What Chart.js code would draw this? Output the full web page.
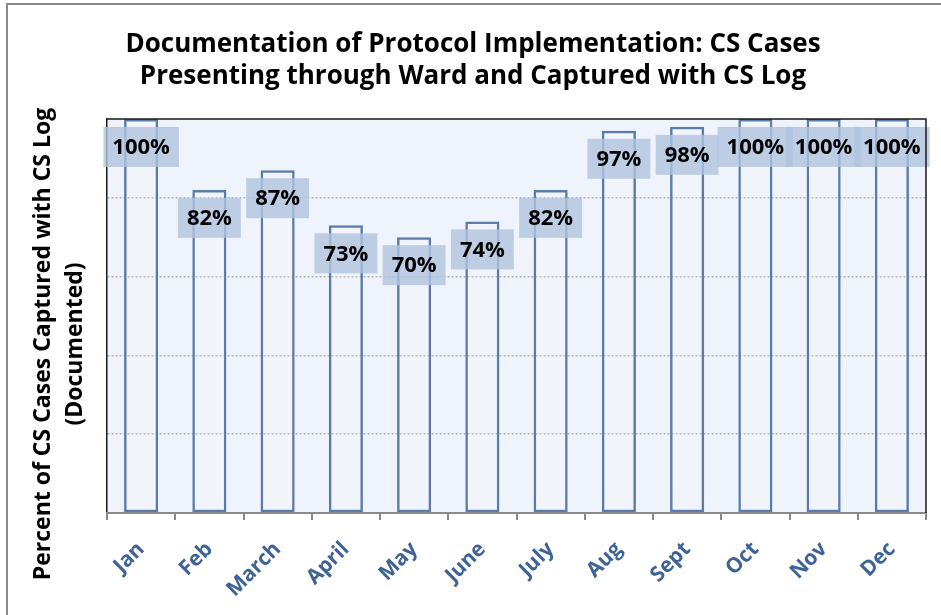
<!DOCTYPE html>
<html>
<head>
<meta charset="utf-8">
<script src="https://cdn.jsdelivr.net/npm/chart.js@4.4.1/dist/chart.umd.min.js"></script>
<style>
  html, body { margin: 0; padding: 0; background: #fff; }
  #wrap { width: 941px; height: 615px; }
</style>
</head>
<body>
<div id="wrap"><canvas id="grafico" width="941" height="615"></canvas></div>
<script>
// Datos
const meses = ['Jan', 'Feb', 'March', 'April', 'May', 'June', 'July', 'Aug', 'Sept', 'Oct', 'Nov', 'Dec'];
const porcentajes = [100, 82, 87, 73, 70, 74, 82, 97, 98, 100, 100, 100];
const tituloLineas = ['Documentation of Protocol Implementation: CS Cases', 'Presenting through Ward and Captured with CS Log'];
const tituloEjeY = ['Percent of CS Cases Captured with CS Log', '(Documented)'];
const rangoY = [0, 100];
const pasoY = 20;

const fuente = '"Open Sans", "Noto Sans", sans-serif';
const colorBarra = '#5b7ba9';
const fondoArea = '#eff3fb';

// Fondo blanco, marco exterior y fondo del área de trazado
const pluginFondo = {
  id: 'fondo',
  beforeDraw(chart) {
    const { ctx, chartArea: a } = chart;
    ctx.save();
    ctx.fillStyle = '#fff';
    ctx.fillRect(0, 0, chart.width, chart.height);
    ctx.strokeStyle = '#8a8a8a';
    ctx.lineWidth = 2;
    ctx.strokeRect(7, 4, chart.width + 20, chart.height + 20);
    ctx.fillStyle = fondoArea;
    ctx.fillRect(a.left, a.top, a.right - a.left, a.bottom - a.top);
    ctx.restore();
  },
  afterDraw(chart) {
    const { ctx, chartArea: a } = chart;
    ctx.save();
    // borde superior y derecho del área
    ctx.strokeStyle = '#1a1a1a';
    ctx.lineWidth = 1.5;
    ctx.beginPath();
    ctx.moveTo(a.left, a.top);
    ctx.lineTo(a.right, a.top);
    ctx.lineTo(a.right, a.bottom);
    ctx.stroke();

    // título del eje Y (dos líneas, rotado)
    ctx.font = 'bold 23px ' + fuente;
    ctx.fillStyle = '#000';
    ctx.textAlign = 'center';
    ctx.textBaseline = 'middle';
    const xs = [43, 75];
    tituloEjeY.forEach((linea, i) => {
      ctx.save();
      ctx.translate(xs[i], 344);
      ctx.rotate(-Math.PI / 2);
      ctx.fillText(linea, 0, 0);
      ctx.restore();
    });
    ctx.restore();
  }
};

// Etiquetas de valor en cajas azul claro
const pluginEtiquetas = {
  id: 'etiquetas',
  afterDatasetsDraw(chart) {
    const { ctx } = chart;
    const meta = chart.getDatasetMeta(0);
    ctx.save();
    ctx.font = 'bold 22px ' + fuente;
    ctx.textAlign = 'center';
    ctx.textBaseline = 'middle';
    meta.data.forEach((barra, i) => {
      const txt = porcentajes[i] + '%';
      const w = ctx.measureText(txt).width + 18;
      const h = 40;
      const cy = barra.y + 28;
      ctx.fillStyle = 'rgba(176,196,222,0.8)';
      ctx.fillRect(barra.x - w / 2, cy - h / 2, w, h);
      ctx.fillStyle = '#000';
      ctx.fillText(txt, barra.x, cy + 1);
    });
    ctx.restore();
  }
};

const ctx = document.getElementById('grafico').getContext('2d');
new Chart(ctx, {
  type: 'bar',
  data: {
    labels: meses,
    datasets: [{
      data: porcentajes,
      backgroundColor: 'rgba(255,255,255,0.15)',
      borderColor: colorBarra,
      borderWidth: 2.5,
      borderSkipped: false,
      barPercentage: 0.5,
      categoryPercentage: 1
    }]
  },
  options: {
    responsive: false,
    animation: false,
    layout: { padding: { left: 20, right: 15, top: 0, bottom: 0 } },
    plugins: {
      legend: { display: false },
      tooltip: { enabled: false },
      title: {
        display: true,
        text: tituloLineas,
        color: '#000',
        font: { family: fuente, size: 26, weight: 'bold', lineHeight: 1.23 },
        padding: { top: 29, bottom: 26 }
      }
    },
    scales: {
      y: {
        min: rangoY[0],
        max: rangoY[1],
        ticks: { stepSize: pasoY, display: false },
        grid: {
          color: c => (c.tick.value === rangoY[0] || c.tick.value === rangoY[1]) ? 'rgba(0,0,0,0)' : '#b4b4b4',
          lineWidth: 1.5,
          drawTicks: false
        },
        border: { display: true, color: '#1a1a1a', width: 1.5, dash: [2, 2] },
        afterFit: s => { s.width = 87; }
      },
      x: {
        grid: {
          offset: true,
          drawOnChartArea: false,
          drawTicks: true,
          tickLength: 7,
          color: '#8a8a8a',
          lineWidth: 2
        },
        border: { display: true, color: '#8a8a8a', width: 2 },
        ticks: {
          color: '#3e6396',
          font: { family: fuente, size: 21, weight: 'bold' },
          minRotation: 45,
          maxRotation: 45,
          padding: 17
        },
        afterFit: s => { s.height = 102; }
      }
    }
  },
  plugins: [pluginFondo, pluginEtiquetas]
});
</script>
</body>
</html>
